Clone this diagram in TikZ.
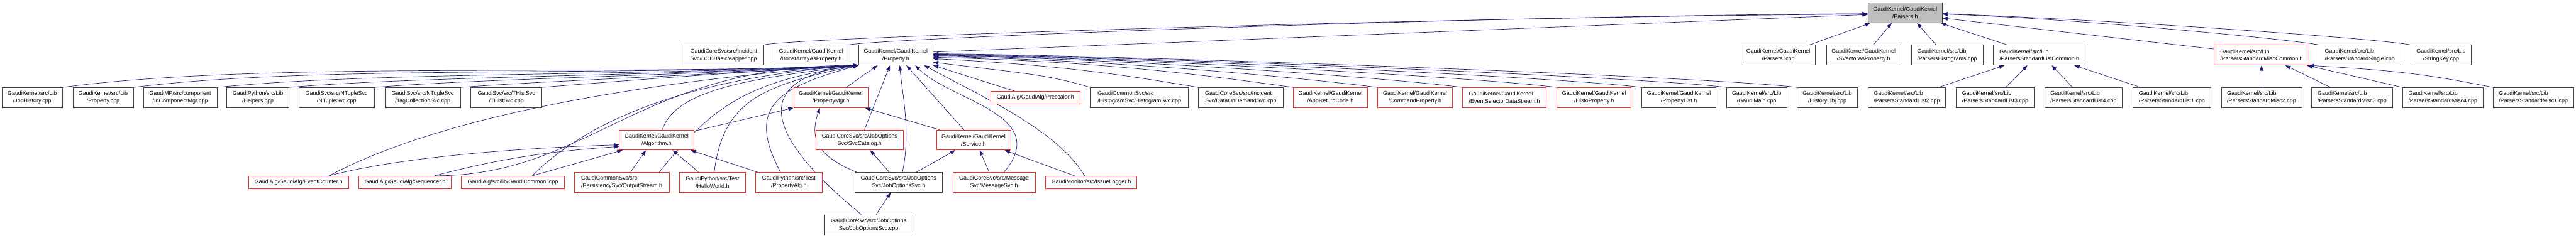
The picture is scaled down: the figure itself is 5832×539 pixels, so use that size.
\documentclass[tikz,border=0pt]{standalone}
\usepackage{fontspec}
\setmainfont{Liberation Sans}
\usetikzlibrary{arrows.meta, positioning, backgrounds}
\definecolor{enlace}{RGB}{25,25,112}
\definecolor{borde}{RGB}{64,64,64}
\definecolor{rojo}{RGB}{255,40,40}
\definecolor{gris}{RGB}{191,191,191}

\begin{document}
\begin{tikzpicture}[x=1pt, y=-1pt,
        file/.style={rectangle, draw=borde, line width=1pt, fill=white, align=center, inner xsep=2pt, inner ysep=2pt, minimum height=45.5pt, font=\fontsize{12.7}{17}\selectfont},
        roja/.style={file, draw=rojo},
        linea/.style={minimum height=28.5pt},
        izq/.style={align=left},
        bw/.style={minimum width=#1pt},
        arrow/.style={-{Triangle[length=12pt,width=8.5pt]}, draw=enlace, line width=1pt}
    ]
        \useasboundingbox (0,0) rectangle (5832,539);

        % fila 0
        \node[file, fill=gris, bw=168] (parsers) at (4313,29) {GaudiKernel/GaudiKernel\\/Parsers.h};

        % fila 1
        \node[file, izq, bw=180] (dodmap) at (1638.5,125) {GaudiCoreSvc/src/Incident\\Svc/DODBasicMapper.cpp};
        \node[file, bw=168.5] (boostarr) at (1836,125) {GaudiKernel/GaudiKernel\\/BoostArrayAsProperty.h};
        \node[file, bw=168] (propH) at (2028,125) {GaudiKernel/GaudiKernel\\/Property.h};
        \node[file, bw=168.5] (parsicpp) at (4026,125) {GaudiKernel/GaudiKernel\\/Parsers.icpp};
        \node[file, bw=168] (svector) at (4219,125) {GaudiKernel/GaudiKernel\\/SVectorAsProperty.h};
        \node[file, izq, bw=162.5] (parshist) at (4408,125) {GaudiKernel/src/Lib\\/ParsersHistograms.cpp};
        \node[file, izq, bw=207.5] (listcommon) at (4617,125) {GaudiKernel/src/Lib\\/ParsersStandardListCommon.h};
        \node[roja, izq, bw=214] (misccommon) at (5120,125) {GaudiKernel/src/Lib\\/ParsersStandardMiscCommon.h};
        \node[file, izq, bw=184] (single) at (5342.5,125) {GaudiKernel/src/Lib\\/ParsersStandardSingle.cpp};
        \node[file, bw=136] (stringkey) at (5526.5,125) {GaudiKernel/src/Lib\\/StringKey.cpp};

        % fila 2
        \node[file, bw=136.5] (jobhist) at (73,221.3) {GaudiKernel/src/Lib\\/JobHistory.cpp};
        \node[file, bw=137] (propcpp) at (233.5,221.3) {GaudiKernel/src/Lib\\/Property.cpp};
        \node[file, bw=166.5] (iocomp) at (408,221.3) {GaudiMP/src/component\\/IoComponentMgr.cpp};
        \node[file, bw=140.5] (helpers) at (584,221.3) {GaudiPython/src/Lib\\/Helpers.cpp};
        \node[file, bw=171.5] (ntuple) at (762,221.3) {GaudiSvc/src/NTupleSvc\\/NTupleSvc.cpp};
        \node[file, bw=170.5] (tagcoll) at (957,221.3) {GaudiSvc/src/NTupleSvc\\/TagCollectionSvc.cpp};
        \node[file, bw=161] (thist) at (1146.5,221.3) {GaudiSvc/src/THistSvc\\/THistSvc.cpp};
        \node[roja, bw=168] (propmgr) at (1881,221.3) {GaudiKernel/GaudiKernel\\/PropertyMgr.h};
        \node[roja, linea, bw=202.5] (prescaler) at (2344,221.3) {GaudiAlg/GaudiAlg/Prescaler.h};
        \node[file, izq, bw=222] (histsvc) at (2579.5,221.3) {GaudiCommonSvc/src\\/HistogramSvc/HistogramSvc.cpp};
        \node[file, izq, bw=191] (dataod) at (2809,221.3) {GaudiCoreSvc/src/Incident\\Svc/DataOnDemandSvc.cpp};
        \node[roja, bw=168.5] (appret) at (3012,221.3) {GaudiKernel/GaudiKernel\\/AppReturnCode.h};
        \node[roja, bw=169] (cmdprop) at (3203.5,221.3) {GaudiKernel/GaudiKernel\\/CommandProperty.h};
        \node[roja, izq, bw=189.5] (evtsel) at (3406,221.3) {GaudiKernel/GaudiKernel\\/EventSelectorDataStream.h};
        \node[roja, bw=168] (histoprop) at (3609,221.3) {GaudiKernel/GaudiKernel\\/HistoProperty.h};
        \node[file, bw=168.5] (proplist) at (3801,221.3) {GaudiKernel/GaudiKernel\\/PropertyList.h};
        \node[file, bw=136] (gaudimain) at (3977,221.3) {GaudiKernel/src/Lib\\/GaudiMain.cpp};
        \node[file, bw=136.5] (histobj) at (4137,221.3) {GaudiKernel/src/Lib\\/HistoryObj.cpp};
        \node[file, izq, bw=176] (list2) at (4317,221.3) {GaudiKernel/src/Lib\\/ParsersStandardList2.cpp};
        \node[file, izq, bw=176] (list3) at (4517,221.3) {GaudiKernel/src/Lib\\/ParsersStandardList3.cpp};
        \node[file, izq, bw=176] (list4) at (4717,221.3) {GaudiKernel/src/Lib\\/ParsersStandardList4.cpp};
        \node[file, izq, bw=176] (list1) at (4917,221.3) {GaudiKernel/src/Lib\\/ParsersStandardList1.cpp};
        \node[file, izq, bw=182.5] (misc2) at (5120,221.3) {GaudiKernel/src/Lib\\/ParsersStandardMisc2.cpp};
        \node[file, izq, bw=183] (misc3) at (5325,221.3) {GaudiKernel/src/Lib\\/ParsersStandardMisc3.cpp};
        \node[file, izq, bw=183] (misc4) at (5530.5,221.3) {GaudiKernel/src/Lib\\/ParsersStandardMisc4.cpp};
        \node[file, izq, bw=183] (misc1) at (5735.5,221.3) {GaudiKernel/src/Lib\\/ParsersStandardMisc1.cpp};

        % fila 3
        \node[roja, bw=169] (algorithm) at (1486.5,317.3) {GaudiKernel/GaudiKernel\\/Algorithm.h};
        \node[roja, bw=199] (svccat) at (1946,317.3) {GaudiCoreSvc/src/JobOptions\\Svc/SvcCatalog.h};
        \node[roja, bw=168] (service) at (2204,317.3) {GaudiKernel/GaudiKernel\\/Service.h};

        % fila 4
        \node[roja, linea, bw=226.5] (evtcounter) at (676,413.3) {GaudiAlg/GaudiAlg/EventCounter.h};
        \node[roja, linea, bw=209.5] (sequencer) at (917,413.3) {GaudiAlg/GaudiAlg/Sequencer.h};
        \node[roja, linea, bw=233.5] (gaudicommon) at (1161,413.3) {GaudiAlg/src/lib/GaudiCommon.icpp};
        \node[roja, izq, bw=215] (outstream) at (1407.5,413.5) {GaudiCommonSvc/src\\/PersistencySvc/OutputStream.h};
        \node[roja, bw=149.5] (helloworld) at (1613,413.5) {GaudiPython/src/Test\\/HelloWorld.h};
        \node[roja, bw=150] (propalg) at (1786,413.5) {GaudiPython/src/Test\\/PropertyAlg.h};
        \node[file, bw=199] (josvch) at (2034.5,413.5) {GaudiCoreSvc/src/JobOptions\\Svc/JobOptionsSvc.h};
        \node[roja, bw=187] (msgsvc) at (2250.5,413.5) {GaudiCoreSvc/src/Message\\Svc/MessageSvc.h};
        \node[roja, linea, bw=207] (issuelog) at (2470.5,413.3) {GaudiMonitor/src/IssueLogger.h};

        % fila 5
        \node[file, bw=199] (josvccpp) at (1966.5,509.8) {GaudiCoreSvc/src/JobOptions\\Svc/JobOptionsSvc.cpp};

        \begin{scope}[on background layer]
        % hacia Parsers.h
        \draw[arrow] (dodmap.north east) .. controls +(80,-18) and +(-900,6) .. ([yshift=-3pt]parsers.west);
        \draw[arrow] (boostarr.north east) .. controls +(80,-15) and +(-900,5) .. ([yshift=-2pt]parsers.west);
        \draw[arrow] ([yshift=7pt]propH.east) -- ([yshift=-4pt]parsers.west);
        \draw[arrow] ([xshift=-14pt]parsicpp.north east) -- ([xshift=6pt]parsers.south west);
        \draw[arrow] ([xshift=22pt]svector.north) -- ([xshift=-30pt]parsers.south);
        \draw[arrow] ([xshift=-25pt]parshist.north) -- ([xshift=27pt]parsers.south);
        \draw[arrow] ([xshift=-73pt]listcommon.north) -- ([xshift=-4pt]parsers.south east);
        \draw[arrow] ([yshift=-9.5pt]misccommon.north west) -- ([yshift=-12pt]parsers.east);
        \draw[arrow] (single.north west) .. controls +(-60,-12) and +(300,10) .. ([yshift=-3pt]parsers.east);
        \draw[arrow] (stringkey.north west) .. controls +(-80,-15) and +(400,15) .. ([yshift=-2pt]parsers.east);

        % hacia ParsersStandardListCommon.h y ParsersStandardMiscCommon.h
        \draw[arrow] ([xshift=72pt]list2.north) -- ([xshift=-79pt]listcommon.south);
        \draw[arrow] ([xshift=24pt]list3.north) -- ([xshift=-27pt]listcommon.south);
        \draw[arrow] ([xshift=-25pt]list4.north) -- ([xshift=28pt]listcommon.south);
        \draw[arrow] ([xshift=-71pt]list1.north) -- ([xshift=79pt]listcommon.south);
        \draw[arrow] (misc2.north) -- (misccommon.south);
        \draw[arrow] ([xshift=-49pt]misc3.north) -- ([xshift=54pt]misccommon.south);
        \draw[arrow] (misc4.north west) -- ([xshift=-5pt]misccommon.south east);
        \draw[arrow] (misc1.north west) .. controls +(-150,-30) and +(200,12) .. (misccommon.south east);

        % hacia Property.h, por la izquierda
        \draw[arrow] (jobhist.north east) .. controls +(450,-60) and +(-600,25) .. (propH.south west);
        \draw[arrow] (propcpp.north east) .. controls +(400,-50) and +(-600,25) .. (propH.south west);
        \draw[arrow] (iocomp.north east) .. controls +(350,-35) and +(-550,25) .. (propH.south west);
        \draw[arrow] (helpers.north east) .. controls +(300,-25) and +(-500,25) .. (propH.south west);
        \draw[arrow] (ntuple.north east) .. controls +(250,-20) and +(-450,25) .. (propH.south west);
        \draw[arrow] (tagcoll.north east) .. controls +(200,-15) and +(-400,25) .. (propH.south west);
        \draw[arrow] (thist.north east) .. controls +(150,-12) and +(-350,20) .. (propH.south west);
        \draw[arrow] ([xshift=69pt]evtcounter.north) .. controls +(300,-160) and +(-350,25) .. (propH.south west);
        \draw[arrow] ([xshift=67pt]sequencer.north) .. controls +(350,0) and +(-500,0) .. (propH.south west);
        \draw[arrow] ([xshift=44pt]gaudicommon.north) .. controls +(120,-120) and +(-400,30) .. (propH.south west);
        \draw[arrow] ([xshift=13pt]algorithm.north) .. controls +(30,-90) and +(-250,30) .. (propH.south west);
        \draw[arrow] ([xshift=85pt]outstream.north) .. controls +(120,-150) and +(-250,35) .. (propH.south west);
        \draw[arrow] ([xshift=4pt]helloworld.north) .. controls +(20,-160) and +(-220,45) .. (propH.south west);
        \draw[arrow] ([xshift=-19pt]propalg.north) .. controls +(-80,-150) and +(-180,50) .. (propH.south west);
        \draw[arrow] ([xshift=-16pt]josvccpp.north) .. controls +(-270,-220) and +(-200,22) .. (propH.south west);

        % hacia Property.h, por debajo
        \draw[arrow] ([xshift=35pt]propmgr.north) -- ([xshift=-41pt]propH.south);
        \draw[arrow] ([xshift=11pt]svccat.north) -- ([xshift=-13pt]propH.south);
        \draw[arrow] ([xshift=8.5pt]josvch.north) .. controls +(20,-90) and +(5,60) .. ([xshift=9pt]propH.south);
        \draw[arrow] ([xshift=-22pt]service.north) -- ([xshift=24pt]propH.south);
        \draw[arrow] ([xshift=22.5pt]msgsvc.north) .. controls +(110,-130) and +(80,80) .. ([xshift=44pt]propH.south);
        \draw[arrow] ([xshift=-15pt]issuelog.north) .. controls +(-60,-100) and +(150,80) .. ([xshift=64pt]propH.south);
        \draw[arrow] ([xshift=-47pt]prescaler.north) -- (propH.south east);

        % hacia Property.h, por la derecha
        \draw[arrow] (histsvc.north west) .. controls +(-100,-30) and +(200,25) .. ([yshift=-16pt]propH.east);
        \draw[arrow] (dataod.north west) .. controls +(-150,-25) and +(300,15) .. ([yshift=-8pt]propH.east);
        \draw[arrow] (appret.north west) .. controls +(-180,-25) and +(400,10) .. ([yshift=-5pt]propH.east);
        \draw[arrow] (cmdprop.north west) .. controls +(-200,-25) and +(400,8) .. ([yshift=-3pt]propH.east);
        \draw[arrow] (evtsel.north west) .. controls +(-200,-25) and +(400,6) .. ([yshift=-1pt]propH.east);
        \draw[arrow] (histoprop.north west) .. controls +(-200,-25) and +(400,5) .. (propH.east);
        \draw[arrow] (proplist.north west) .. controls +(-200,-25) and +(400,4) .. ([yshift=1pt]propH.east);
        \draw[arrow] (gaudimain.north west) .. controls +(-200,-25) and +(400,3) .. ([yshift=2pt]propH.east);
        \draw[arrow] (histobj.north west) .. controls +(-200,-25) and +(400,2) .. ([yshift=3pt]propH.east);

        % hacia Algorithm.h
        \draw[arrow] ([xshift=69pt]evtcounter.north) .. controls +(150,-40) and +(-250,8) .. ([yshift=-11pt]algorithm.west);
        \draw[arrow] ([xshift=67pt]sequencer.north) .. controls +(150,-40) and +(-150,10) .. ([yshift=-15pt]algorithm.west);
        \draw[arrow] ([xshift=44pt]gaudicommon.north) -- ([xshift=8pt]algorithm.south west);
        \draw[arrow] ([xshift=20pt]outstream.north) -- ([xshift=-24pt]algorithm.south);
        \draw[arrow] ([xshift=-31pt]helloworld.north) -- ([xshift=36pt]algorithm.south);
        \draw[arrow] ([xshift=-71pt]propalg.north) -- ([xshift=-8pt]algorithm.south east);

        % hacia PropertyMgr.h, SvcCatalog.h, Service.h y JobOptionsSvc.h
        \draw[arrow] ([yshift=20pt]algorithm.east) -- (propmgr.south west);
        \draw[arrow] ([xshift=5pt]josvch.north west) .. controls +(-100,-40) and +(-20,60) .. ([xshift=-25pt]propmgr.south);
        \draw[arrow] ([xshift=7pt]service.north west) -- ([xshift=-7pt]propmgr.south east);
        \draw[arrow] ([xshift=-21pt]josvch.north) -- ([xshift=24pt]svccat.south);
        \draw[arrow] ([xshift=40pt]josvch.north) -- ([xshift=-41pt]service.south);
        \draw[arrow] ([xshift=-11pt]msgsvc.north) -- ([xshift=14pt]service.south);
        \draw[arrow] ([xshift=-38pt]issuelog.north) -- ([xshift=-14pt]service.south east);
        \draw[arrow] ([xshift=17pt]josvccpp.north) -- ([xshift=-18pt]josvch.south);
        \end{scope}
    \end{tikzpicture}
\end{document}
